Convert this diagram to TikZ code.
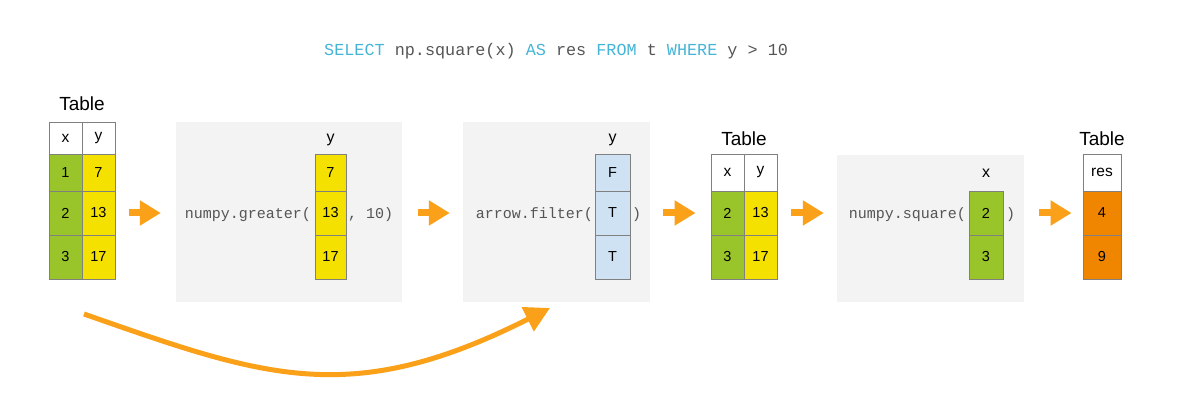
\documentclass[tikz,border=0pt]{standalone}
\usepackage{fontspec}
\setmainfont{Liberation Sans}
\setmonofont{Liberation Mono}
\usetikzlibrary{arrows.meta,positioning,calc}

\definecolor{cellgreen}{RGB}{153,196,42}
\definecolor{cellyellow}{RGB}{245,225,0}
\definecolor{cellblue}{RGB}{207,226,243}
\definecolor{cellorange}{RGB}{240,134,0}
\definecolor{cellline}{RGB}{128,128,128}
\definecolor{stagegray}{RGB}{243,243,243}
\definecolor{pipeorange}{RGB}{250,160,25}
\definecolor{codegray}{RGB}{85,85,85}
\definecolor{sqlblue}{RGB}{70,180,215}

\tikzset{
  cell/.style={draw=cellline, line width=0.9pt, inner sep=0pt, font=\fontsize{14.5}{17}\selectfont},
  head/.style={cell, fill=white, font=\fontsize{15.5}{18}\selectfont},
  stage/.style={fill=stagegray, inner sep=0pt},
  pipe/.style={draw=pipeorange, line width=7pt, -{Triangle[length=21pt,width=24pt]}},
  bypass/.style={draw=pipeorange, line width=5pt, -{Triangle[length=25pt,width=26pt]}},
  code/.style={font=\ttfamily\fontsize{15}{18}\selectfont, text=codegray, inner sep=0pt},
  title/.style={font=\fontsize{19}{22}\selectfont, inner sep=0pt},
  colname/.style={font=\fontsize{16}{19}\selectfont, inner sep=0pt},
}

\begin{document}
\begin{tikzpicture}[x=1pt,y=-1pt]
    \useasboundingbox (0,0) rectangle (1179,406);

    % query
    \node[code, font=\ttfamily\fontsize{16.8}{20}\selectfont, anchor=base west] (query) at (324,55.5)
        {\textcolor{sqlblue}{SELECT} np.square(x) \textcolor{sqlblue}{AS} res \textcolor{sqlblue}{FROM} t \textcolor{sqlblue}{WHERE} y > 10};

    % stage backgrounds
    \node[stage, minimum width=226pt, minimum height=180pt] (greater) at (289,212) {};
    \node[stage, minimum width=187pt, minimum height=180pt] (filter) at (556.5,212) {};
    \node[stage, minimum width=187pt, minimum height=147pt] (square) at (930.5,228.5) {};

    % input table
    \node[title] (t1title) at (82,104) {Table};
    \node[head, minimum width=33pt, minimum height=32pt] (t1hx) at (65.5,138) {x};
    \node[head, minimum width=33pt, minimum height=32pt] (t1hy) at (98.5,138) {y};
    \foreach \i/\a/\b/\cy/\h in {1/1/7/172.5/37, 2/2/13/213/44, 3/3/17/257/44} {
        \node[cell, fill=cellgreen, minimum width=33pt, minimum height=\h pt] (t1x\i) at (65.5,\cy) {\a};
        \node[cell, fill=cellyellow, minimum width=33pt, minimum height=\h pt] (t1y\i) at (98.5,\cy) {\b};
    }

    % numpy.greater
    \node[colname] (gname) at (330.5,140) {y};
    \foreach \i/\b/\cy/\h in {1/7/172.5/37, 2/13/213/44, 3/17/257/44}
        \node[cell, fill=cellyellow, minimum width=31pt, minimum height=\h pt] (gy\i) at (330.5,\cy) {\b};
    \node[code, anchor=base east] (gcall) at (311,218.5) {numpy.greater(};
    \node[code, anchor=base west] (gargs) at (348,218.5) {, 10)};

    % arrow.filter
    \node[colname] (fname) at (612.5,140) {y};
    \foreach \i/\b/\cy/\h in {1/F/172.5/37, 2/T/213/44, 3/T/257/44}
        \node[cell, fill=cellblue, minimum width=35pt, minimum height=\h pt] (fy\i) at (612.5,\cy) {\b};
    \node[code, anchor=base east] (fcall) at (593,218.5) {arrow.filter(};
    \node[code, anchor=base west] (fargs) at (632,218.5) {)};

    % filtered table
    \node[title] (t2title) at (744,138.5) {Table};
    \node[head, minimum width=33pt, minimum height=37pt] (t2hx) at (727.5,172.5) {x};
    \node[head, minimum width=33pt, minimum height=37pt] (t2hy) at (760.5,172.5) {y};
    \foreach \i/\a/\b/\cy in {1/2/13/213, 2/3/17/257} {
        \node[cell, fill=cellgreen, minimum width=33pt, minimum height=44pt] (t2x\i) at (727.5,\cy) {\a};
        \node[cell, fill=cellyellow, minimum width=33pt, minimum height=44pt] (t2y\i) at (760.5,\cy) {\b};
    }

    % numpy.square
    \node[colname] (sname) at (986,173) {x};
    \foreach \i/\a/\cy in {1/2/213, 2/3/257}
        \node[cell, fill=cellgreen, minimum width=34pt, minimum height=44pt] (sx\i) at (986,\cy) {\a};
    \node[code, anchor=base east] (scall) at (966,218.5) {numpy.square(};
    \node[code, anchor=base west] (sargs) at (1006,218.5) {)};

    % result table
    \node[title] (t3title) at (1102,138.5) {Table};
    \node[head, minimum width=38pt, minimum height=37pt] (t3h) at (1102,172.5) {res};
    \foreach \i/\a/\cy in {1/4/213, 2/9/257}
        \node[cell, fill=cellorange, minimum width=38pt, minimum height=44pt] (t3r\i) at (1102,\cy) {\a};

    % pipeline arrows
    \draw[pipe] ($(t1y2.east)+(14,0)$) -- ($(greater.west |- t1y2)+(-15,0)$);
    \draw[pipe] ($(greater.east |- t1y2)+(16,0)$) -- ($(filter.west |- t1y2)+(-13,0)$);
    \draw[pipe] ($(filter.east |- t1y2)+(13,0)$) -- ($(t2x1.west)+(-15,0)$);
    \draw[pipe] ($(t2y1.east)+(14,0)$) -- ($(square.west |- t1y2)+(-13,0)$);
    \draw[pipe] ($(square.east |- t1y2)+(15,0)$) -- ($(t3r1.west)+(-11,0)$);

    % table goes straight to the filter
    \coordinate (bypassstart) at (84,314);
    \coordinate (bypassend) at (550,308);
    \draw[bypass] (bypassstart) .. controls (264,377) and (350,409) .. (bypassend);
\end{tikzpicture}
\end{document}
